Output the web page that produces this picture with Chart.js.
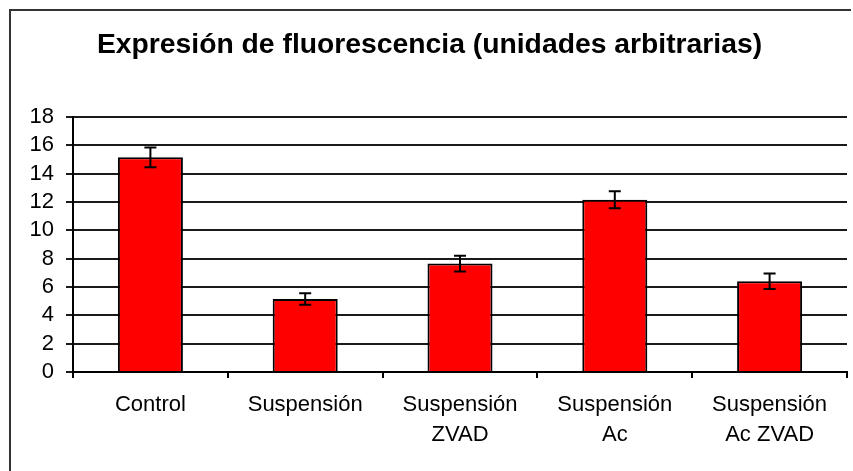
<!DOCTYPE html>
<html lang="es">
<head>
<meta charset="utf-8">
<title>Expresión de fluorescencia</title>
<script src="https://cdn.jsdelivr.net/npm/chart.js@4.4.1/dist/chart.umd.min.js"></script>
<style>
    html, body { margin: 0; padding: 0; background: #fff; overflow: hidden; }
    #fluoChart { display: block; }
</style>
</head>
<body>
<canvas id="fluoChart" width="853" height="471"></canvas>
<script>
// Datos: media y error de cada condición
const categories = ['Control', 'Suspensión', ['Suspensión', 'ZVAD'], ['Suspensión', 'Ac'], ['Suspensión', 'Ac ZVAD']];
const meanValues = [15.15, 5.15, 7.65, 12.15, 6.4];
const errorValues = [0.7, 0.4, 0.55, 0.6, 0.55];
const yTicks = [0, 2, 4, 6, 8, 10, 12, 14, 16, 18];

const FONT = "'Liberation Sans', Arial, sans-serif";

// Marco del gráfico: solo se ven los bordes izquierdo y superior
const framePlugin = {
    id: 'frame',
    beforeDraw(chart) {
        const ctx = chart.ctx;
        ctx.save();
        ctx.fillStyle = '#333';
        ctx.fillRect(9, 9, 2, chart.height - 9);
        ctx.fillRect(9, 9, chart.width - 11, 2);
        ctx.restore();
    }
};

// Barras de error dibujadas encima de cada barra
const errorBarsPlugin = {
    id: 'errorBars',
    afterDatasetsDraw(chart) {
        const ctx = chart.ctx;
        const yScale = chart.scales.y;
        const meta = chart.getDatasetMeta(0);
        ctx.save();
        ctx.strokeStyle = '#000';
        ctx.lineWidth = 2;
        meta.data.forEach((bar, i) => {
            const top = yScale.getPixelForValue(meanValues[i] + errorValues[i]);
            const bottom = yScale.getPixelForValue(meanValues[i] - errorValues[i]);
            const x = bar.x;
            ctx.beginPath();
            ctx.moveTo(x, top);
            ctx.lineTo(x, bottom);
            ctx.moveTo(x - 6, top);
            ctx.lineTo(x + 6, top);
            ctx.moveTo(x - 6, bottom);
            ctx.lineTo(x + 6, bottom);
            ctx.stroke();
        });
        ctx.restore();
    }
};

function initFluoChart() {
    const ctx = document.getElementById('fluoChart');
    new Chart(ctx, {
        type: 'bar',
        data: {
            labels: categories,
            datasets: [{
                data: meanValues,
                backgroundColor: '#ff0000',
                borderColor: '#000',
                borderWidth: 2,
                barPercentage: 0.42,
                categoryPercentage: 1.0
            }]
        },
        options: {
            responsive: false,
            animation: false,
            layout: { padding: { left: 12, right: 6, top: 0, bottom: 0 } },
            plugins: {
                legend: { display: false },
                tooltip: { enabled: false },
                title: {
                    display: true,
                    text: 'Expresión de fluorescencia (unidades arbitrarias)',
                    color: '#000',
                    font: { family: FONT, size: 28.3, weight: 'bold', lineHeight: 1.2 },
                    padding: { top: 28, bottom: 55 }
                }
            },
            scales: {
                x: {
                    grid: {
                        offset: true,
                        drawOnChartArea: false,
                        tickLength: 6,
                        color: '#000',
                        lineWidth: 2
                    },
                    border: { display: true, color: '#000', width: 2 },
                    ticks: {
                        color: '#000',
                        padding: 12,
                        maxRotation: 0,
                        autoSkip: false,
                        font: { family: FONT, size: 22, lineHeight: 1.35 }
                    },
                    afterFit: (scale) => { scale.height = 99; }
                },
                y: {
                    min: 0,
                    max: 18,
                    afterBuildTicks: (scale) => {
                        scale.ticks = yTicks.map(v => ({ value: v }));
                    },
                    grid: { color: '#1a1a1a', lineWidth: 2, tickLength: 7 },
                    border: { display: true, color: '#000', width: 2 },
                    ticks: {
                        color: '#000',
                        padding: 12,
                        autoSkip: false,
                        font: { family: FONT, size: 22 }
                    },
                    afterFit: (scale) => { scale.width = 61; }
                }
            }
        },
        plugins: [framePlugin, errorBarsPlugin]
    });
}

document.addEventListener('DOMContentLoaded', initFluoChart);
</script>
</body>
</html>
